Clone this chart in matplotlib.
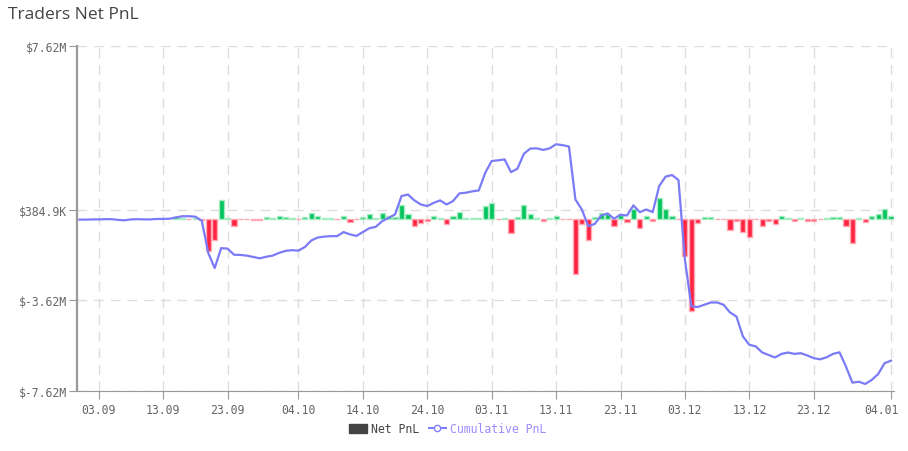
import pandas as pd
import matplotlib
matplotlib.use("Agg")
import matplotlib.pyplot as plt
from matplotlib.lines import Line2D
from matplotlib.patches import Patch
from matplotlib.transforms import ScaledTranslation

# Datas (diárias)
dias_linha = pd.date_range("2024-08-31", "2025-01-04", freq="D")
dias_barras = pd.date_range("2024-09-15", "2025-01-04", freq="D")

# Net PnL diário, em milhões de $ (15.09 a 04.01)
pnl_diario = [
    0.05, 0.02, -0.02, 0.02, -0.05, -1.44, -0.93, 0.82, 0.02, -0.34, -0.02, -0.01, -0.05, -0.07, 0.05, 0.02,
    0.10, 0.06, 0.02, -0.01, 0.08, 0.25, 0.10, 0.02, 0.02, -0.01, 0.13, -0.16, -0.03, 0.06, 0.18, 0.03,
    0.24, 0.12, 0.06, 0.59, 0.22, -0.35, -0.22, -0.13, 0.09, 0.04, -0.25, 0.12, 0.27, 0.01, 0.03,
    0.01, 0.55, 0.68, -0.01, 0.03, -0.62, 0.07, 0.61, 0.21, 0.01, -0.12, 0.04, 0.13, -0.03, -0.03,
    -2.44, -0.24, -0.96, 0.06, 0.25, 0.18, -0.31, 0.15, -0.15, 0.43, -0.43, 0.10, -0.12, 0.92, 0.40,
    0.13, -0.02, -1.67, -4.10, -0.19, 0.07, 0.07, -0.01, -0.01, -0.49, -0.13, -0.60, -0.80, -0.01, -0.34,
    -0.12, -0.24, 0.13, 0.02, -0.12, 0.02, -0.10, -0.12, -0.02, 0.03, 0.08, 0.08, -0.34, -1.10, 0.02, -0.15,
    0.10, 0.22, 0.44, 0.10,
]

# PnL acumulado, em milhões de $ (31.08 a 04.01)
pnl_acumulado = [
    -0.05,
    -0.05, -0.04, -0.04, -0.03, -0.03, -0.06, -0.08, -0.04, -0.03, -0.04, -0.04, -0.02, -0.02, -0.01, 0.05,
    0.10, 0.10, 0.08, -0.10, -1.52, -2.19, -1.31, -1.33, -1.60, -1.61, -1.64, -1.70, -1.76, -1.69, -1.64,
    -1.52, -1.43, -1.40, -1.42, -1.26, -0.97, -0.84, -0.80, -0.78, -0.78, -0.60, -0.70, -0.77, -0.60, -0.43,
    -0.37, -0.12, 0.03, 0.18, 0.99, 1.06, 0.80, 0.62, 0.55, 0.69, 0.80, 0.62, 0.77, 1.11, 1.14, 1.20,
    1.24, 2.02, 2.54, 2.57, 2.61, 2.05, 2.20, 2.86, 3.09, 3.10, 3.03, 3.10, 3.28, 3.24, 3.18,
    0.84, 0.40, -0.34, -0.24, 0.13, 0.22, -0.01, 0.17, 0.13, 0.58, 0.28, 0.40, 0.28, 1.43, 1.85,
    1.92, 1.70, -1.82, -3.88, -3.91, -3.81, -3.71, -3.71, -3.81, -4.15, -4.33, -5.21, -5.58, -5.65, -5.92,
    -6.03, -6.14, -5.98, -5.92, -5.98, -5.95, -6.05, -6.17, -6.22, -6.13, -5.98, -5.91, -6.54, -7.25, -7.21, -7.31,
    -7.13, -6.87, -6.39, -6.28,
]

ticks_x = ["2024-09-03", "2024-09-13", "2024-09-23", "2024-10-04", "2024-10-14", "2024-10-24",
           "2024-11-03", "2024-11-13", "2024-11-23", "2024-12-03", "2024-12-13", "2024-12-23", "2025-01-04"]
rotulos_x = ["03.09", "13.09", "23.09", "04.10", "14.10", "24.10",
             "03.11", "13.11", "23.11", "03.12", "13.12", "23.12", "04.01"]
ticks_y = [7.62, 0.3849, -3.62, -7.62]
rotulos_y = ["$7.62M", "$384.9K", "$-3.62M", "$-7.62M"]

# Cores
verde, verde_borda = "#00c45c", "#a6ecc2"
vermelho, vermelho_borda = "#ff2442", "#ffaab4"
azul = "#7b7bf7"
mono = "DejaVu Sans Mono"

fig = plt.figure(figsize=(9.08, 4.52), dpi=100)
ax = fig.add_axes([77 / 908, 1 - 392 / 452, (894 - 77) / 908, (392 - 47) / 452])

cores = [verde if v >= 0 else vermelho for v in pnl_diario]
bordas = [verde_borda if v >= 0 else vermelho_borda for v in pnl_diario]
ax.bar(dias_barras, pnl_diario, width=0.8, color=cores, edgecolor=bordas, linewidth=1, zorder=2)
ax.plot(dias_linha, pnl_acumulado, color=azul, lw=1.6, solid_joinstyle="round", zorder=3)

x_ini = pd.Timestamp("2024-08-30 15:00")
x_fim = pd.Timestamp("2025-01-04 11:00")
ax.set_xlim(x_ini, x_fim)
ax.set_ylim(-7.62, 7.62)

ax.set_xticks(pd.to_datetime(ticks_x))
ax.set_xticklabels(rotulos_x, fontfamily=mono, fontsize=8.3, color="#666666")
ax.set_yticks(ticks_y)
ax.set_yticklabels(rotulos_y, fontfamily=mono, fontsize=8.3, color="#666666")

grade = dict(color="#dddddd", linestyle=(0, (7, 5)), linewidth=1.0)
ax.grid(True, **grade)
ax.axvline(x_fim, **grade)
ax.set_axisbelow(True)

for lado in ["top", "right"]:
    ax.spines[lado].set_visible(False)
ax.spines["left"].set_color("#999999")
ax.spines["left"].set_linewidth(1.6)
ax.spines["bottom"].set_color("#999999")
ax.tick_params(axis="y", length=6, color="#999999", pad=1)
ax.tick_params(axis="x", length=6, color="#999999", pad=3)

# último rótulo do eixo x puxado para a esquerda
ultimo = ax.get_xticklabels()[-1]
ultimo.set_transform(ultimo.get_transform() + ScaledTranslation(-0.1, 0, fig.dpi_scale_trans))

fig.text(8 / 908, 1 - 15 / 452, "Traders Net PnL", fontfamily="Open Sans", fontsize=12.5,
         color="#444444", va="center", ha="left")

alcas = [
    Patch(facecolor="#444444", edgecolor="#444444"),
    Line2D([], [], color="#8080ff", lw=1.5, marker="o", markersize=4.5, markerfacecolor="white"),
]
leg = fig.legend(alcas, ["Net PnL", "Cumulative PnL"], loc="center", bbox_to_anchor=(448 / 908, 1 - 430 / 452),
                 ncol=2, frameon=False, prop={"family": mono, "size": 8.3}, handlelength=1.5,
                 handleheight=0.9, columnspacing=0.8, handletextpad=0.4)
for t, c in zip(leg.get_texts(), ["#444444", "#9b8cff"]):
    t.set_color(c)

fig.savefig("out.png", dpi=100)
